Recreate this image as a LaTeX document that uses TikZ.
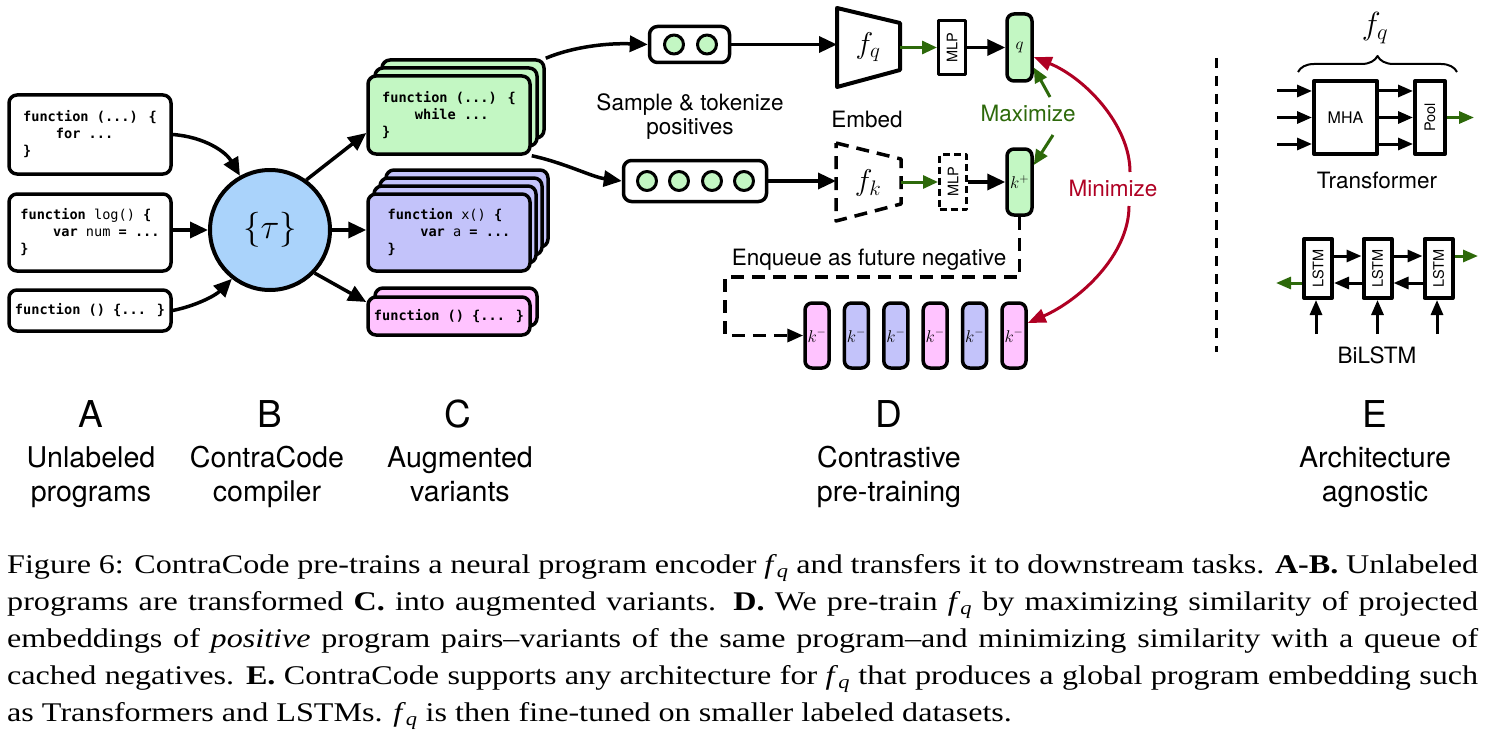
\RequirePackage{fix-cm}
\documentclass[tikz,border=0pt]{standalone}
\usepackage{graphicx}
\usepackage{fontspec}
\setmainfont{TeX Gyre Heros}
\newfontfamily\codefont{DejaVu Sans Mono}
\newfontfamily\capfont[FakeStretch=1.19]{Liberation Serif}
\usetikzlibrary{arrows.meta,decorations.pathreplacing,calc}
\definecolor{cgreen}{RGB}{195,247,195}
\definecolor{cpurple}{RGB}{195,195,250}
\definecolor{cpink}{RGB}{255,195,255}
\definecolor{cblue}{RGB}{170,211,251}
\definecolor{dkgreen}{RGB}{45,105,10}
\definecolor{dkred}{RGB}{175,0,35}
\newcommand{\capfq}{\textit{f}\textsubscript{\textit{q}}}
\begin{document}
\begin{tikzpicture}[x=1pt,y=-1pt,line join=round,
  arr/.style={line width=3.5pt,-{Triangle[length=18pt,width=16pt]}},
  garr/.style={draw=dkgreen,line width=3pt,-{Triangle[length=15pt,width=13pt]}},
  rarr/.style={draw=dkred,line width=3pt,-{Triangle[length=18pt,width=14pt]}},
  sarr/.style={line width=3pt,-{Triangle[length=15pt,width=12pt]}},
  sgarr/.style={draw=dkgreen,line width=3pt,-{Triangle[length=15pt,width=12pt]}},
  lbl/.style={font=\fontsize{22.5}{23.5}\selectfont,inner sep=0pt},
  bigl/.style={font=\fontsize{28.6}{34}\selectfont,align=center,inner sep=0pt,anchor=north},
  lettr/.style={font=\fontsize{37}{37}\selectfont,inner sep=0pt,anchor=base},
  codebox/.style={draw,line width=3.5pt,rounded corners=8pt,fill=white,minimum width=162pt,inner sep=0pt,font=\codefont\fontsize{13.6}{17}\selectfont,align=left},
  stackbox/.style={draw,line width=3.5pt,rounded corners=8pt,minimum width=162pt,inner sep=0pt},
  tokbox/.style={draw,line width=3.5pt,rounded corners=8pt,fill=white,inner sep=0pt},
  tokdot/.style={circle,draw,line width=3pt,fill=cgreen,minimum size=19pt,inner sep=0pt},
  vecbox/.style={draw,line width=3.5pt,rounded corners=7pt,minimum width=25pt,inner sep=0pt,font=\fontsize{17}{17}\selectfont},
  smalltxt/.style={font=\fontsize{14.5}{14.5}\selectfont},
  dsh/.style={dash pattern=on 13pt off 8pt},
  lstmbox/.style={draw,line width=4pt,minimum width=28pt,minimum height=59pt,inner sep=0pt,fill=white,font=\fontsize{14.5}{14.5}\selectfont}
]
\useasboundingbox (0,0) rectangle (1493,741);

% ---------- A: unlabeled programs
\node[codebox,minimum height=79pt] (a1) at (90,134.5) {\textbf{function (...) \{}\\\hphantom{xxxx}\textbf{for ...}\\\textbf{\}}};
\node[codebox,minimum height=77pt] (a2) at (90,232.5) {\textbf{function} log() \textbf{\{}\\\hphantom{xxxx}\textbf{var} num \textbf{= ...}\\\textbf{\}}};
\node[codebox,minimum height=41pt] (a3) at (90,310.5) {\textbf{function () \{... \}}};

% ---------- B: compiler
\node[circle,draw,line width=4pt,fill=cblue,minimum size=120pt,inner sep=0pt,font=\fontsize{35}{35}\selectfont] (tau) at (270,230) {$\{\tau\}$};

% ---------- C: augmented variants
\node[stackbox,fill=cgreen,minimum height=78pt] (g3) at (463,99) {};
\node[stackbox,fill=cgreen,minimum height=78pt] (g2) at (456,107) {};
\node[codebox,fill=cgreen,minimum height=78pt] (g1) at (449,115) {\textbf{function (...) \{}\\\hphantom{xxxx}\textbf{while ...}\\\textbf{\}}};

\node[stackbox,fill=cpurple,minimum height=77pt] (u4) at (467,208.5) {};
\node[stackbox,fill=cpurple,minimum height=77pt] (u3) at (461,216.5) {};
\node[stackbox,fill=cpurple,minimum height=77pt] (u2) at (455,224.5) {};
\node[codebox,fill=cpurple,minimum height=77pt] (u1) at (449,232.5) {\textbf{function} x() \textbf{\{}\\\hphantom{xxxx}\textbf{var} a \textbf{= ...}\\\textbf{\}}};

\node[stackbox,fill=cpink,minimum height=38pt] (p2) at (456,307) {};
\node[codebox,fill=cpink,minimum height=38pt] (p1) at (449,316) {\textbf{function () \{... \}}};

% arrows A -> B -> C
\draw[arr] (a1.east) .. controls (205,137) and (226,152) .. (tau.119);
\draw[arr] (a2.east |- tau.west) -- (tau.west);
\draw[arr] (a3.east) .. controls (195,306) and (215,296) .. (tau.232);
\draw[arr] (tau.54) -- ($(g1.west)+(0,18)$);
\draw[arr] (tau.east) -- (tau.east -| u1.west);
\draw[arr] (tau.316) -- ($(p1.west)+(0,-14)$);

% ---------- D: contrastive pre-training
\node[tokbox,minimum width=80pt,minimum height=36pt] (tk1) at (689.5,44.5) {};
\node[tokdot] (d11) at (674,44.5) {};
\node[tokdot] (d12) at (707,44.5) {};
\node[tokbox,minimum width=143pt,minimum height=41pt] (tk2) at (695,181) {};
\node[tokdot] (d21) at (647,181) {};
\node[tokdot] (d22) at (679,181) {};
\node[tokdot] (d23) at (712,181) {};
\node[tokdot] (d24) at (744,181) {};

\draw[arr] (g3.north east) .. controls (575,46) and (610,43) .. (tk1.west);
\draw[arr] (g1.south east) .. controls (565,163) and (592,177) .. (tk2.west);

\node[lbl,align=center,anchor=north,font=\fontsize{22.5}{24}\selectfont] (samp) at (690,93.5) {Sample \& tokenize\\positives};
\node[lbl,anchor=base] (emb) at (867,128) {Embed};

% encoders
\draw[line width=4pt] (837,8) -- (900,23) -- (900,70) -- (837,87) -- cycle;
\node[font=\fontsize{30}{30}\selectfont] (fq) at (868,47) {$f_q$};
\coordinate (fqW) at (837,44.5);
\coordinate (fqE) at (900,47.5);
\draw[line width=3.5pt,dsh] (836,143) -- (901,159) -- (901,204) -- (836,221) -- cycle;
\node[font=\fontsize{30}{30}\selectfont] (fk) at (868,183) {$f_k$};
\coordinate (fkW) at (836,181);
\coordinate (fkE) at (901,182);

\node[draw,line width=3pt,minimum width=27pt,minimum height=54pt,inner sep=0pt,smalltxt] (m1) at (952,47.5) {\rotatebox{90}{MLP}};
\node[draw,line width=3pt,dash pattern=on 7pt off 4pt,minimum width=27pt,minimum height=55pt,inner sep=0pt,smalltxt] (m2) at (953,182) {\rotatebox{90}{MLP}};

\node[vecbox,fill=cgreen,minimum height=67pt] (q) at (1019.5,47.5) {$q$};
\node[vecbox,fill=cgreen,minimum height=66pt] (kp) at (1019.5,182) {$k^+$};

\draw[arr] (tk1.east) -- (tk1.east -| fqW);
\draw[garr] (fqE) -- (fqE -| m1.west);
\draw[arr] (m1.east) -- (m1.east -| q.west);
\draw[arr] (tk2.east) -- (tk2.east -| fkW);
\draw[garr] (fkE) -- (fkE -| m2.west);
\draw[arr] (m2.east) -- (m2.east -| kp.west);

% negatives queue
\node[vecbox,fill=cpink,minimum width=24pt,minimum height=65pt] (k1) at (817,335.5) {$k^-$};
\node[vecbox,fill=cpurple,minimum width=24pt,minimum height=65pt] (k2) at (856.4,335.5) {$k^-$};
\node[vecbox,fill=cpurple,minimum width=24pt,minimum height=65pt] (k3) at (895.8,335.5) {$k^-$};
\node[vecbox,fill=cpink,minimum width=24pt,minimum height=65pt] (k4) at (935.2,335.5) {$k^-$};
\node[vecbox,fill=cpurple,minimum width=24pt,minimum height=65pt] (k5) at (974.6,335.5) {$k^-$};
\node[vecbox,fill=cpink,minimum width=24pt,minimum height=65pt] (k6) at (1014,335.5) {$k^-$};

\node[lbl,anchor=base] (enq) at (869,265) {Enqueue as future negative};
\coordinate (eq1) at (1019.5,277);
\coordinate (eq2) at (725,277);
\coordinate (eq3) at (725,335.5);
\draw[line width=3.5pt,dsh,-{Triangle[length=16pt,width=13pt]}] (kp.south) -- (eq1) -- (eq2) -- (eq3) -- (k1.west);

% maximize / minimize
\node[lbl,anchor=base,text=dkgreen] (maxl) at (1028,122) {Maximize};
\coordinate (mxu) at (1050,97);
\coordinate (mxd) at (1053,135);
\draw[garr] (mxu) -- ($(q.east)+(0,20)$);
\draw[garr] (mxd) -- ($(kp.east)+(0,-17)$);

\node[lbl,anchor=base,text=dkred] (minl) at (1113,196) {Minimize};
\coordinate (mnt) at (1130,172);
\coordinate (mnb) at (1129,206);
\draw[rarr] (mnt) .. controls (1130,125) and (1085,78) .. ($(q.east)+(0,9.5)$);
\draw[rarr] (mnb) .. controls (1129,255) and (1080,300) .. ($(k6.east)+(0,-12.5)$);

% ---------- E: architecture agnostic
\draw[line width=3pt,dash pattern=on 10pt off 8pt] (1216,58) -- (1216,352);

\draw[line width=2pt,decorate,decoration={brace,amplitude=16pt}] (1298,72) -- (1457,72);
\node[font=\fontsize{32}{32}\selectfont] (fqe) at (1375,28) {$f_q$};

\node[draw,line width=4pt,minimum width=63pt,minimum height=73pt,inner sep=0pt,font=\fontsize{16}{16}\selectfont] (mha) at (1345.5,117.5) {MHA};
\node[draw,line width=4pt,minimum width=30pt,minimum height=73pt,inner sep=0pt,smalltxt] (pool) at (1430,117.5) {\rotatebox{90}{Pool}};
\coordinate (in1) at (1277,91);
\coordinate (in2) at (1277,117.5);
\coordinate (in3) at (1277,144);
\draw[sarr] (in1) -- (in1 -| mha.west);
\draw[sarr] (in2) -- (in2 -| mha.west);
\draw[sarr] (in3) -- (in3 -| mha.west);
\draw[sarr] (mha.east |- in1) -- (pool.west |- in1);
\draw[sarr] (mha.east |- in2) -- (pool.west |- in2);
\draw[sarr] (mha.east |- in3) -- (pool.west |- in3);
\coordinate (pout) at (1474,117.5);
\draw[sgarr] (pool.east) -- (pout);
\node[lbl,anchor=base] (trf) at (1377,188) {Transformer};

\node[lstmbox] (l1) at (1318,268.5) {\rotatebox{90}{LSTM}};
\node[lstmbox] (l2) at (1377.5,268.5) {\rotatebox{90}{LSTM}};
\node[lstmbox] (l3) at (1438.5,268.5) {\rotatebox{90}{LSTM}};
\foreach \n in {l1,l2,l3}{
  \draw[line width=1pt] ($(\n.south west)+(3.5,-2)$) rectangle ($(\n.north east)+(-3.5,2)$);
}
\coordinate (rowf) at (0,256);
\coordinate (rowb) at (0,283);
\draw[sarr] (l1.east |- rowf) -- (l2.west |- rowf);
\draw[sarr] (l2.east |- rowf) -- (l3.west |- rowf);
\coordinate (lout) at (1478,256);
\draw[sgarr] (l3.east |- rowf) -- (lout);
\draw[sarr] (l3.west |- rowb) -- (l2.east |- rowb);
\draw[sarr] (l2.west |- rowb) -- (l1.east |- rowb);
\coordinate (lin) at (1276,283);
\draw[sgarr] (l1.west |- rowb) -- (lin);
\coordinate (up1) at (1316,334);
\coordinate (up2) at (1377.5,334);
\coordinate (up3) at (1437,334);
\draw[sarr] (up1) -- (up1 |- l1.south);
\draw[sarr] (up2) -- (up2 |- l2.south);
\draw[sarr] (up3) -- (up3 |- l3.south);
\node[lbl,anchor=base] (bil) at (1377,363) {BiLSTM};

% ---------- panel labels
\node[lettr] (la) at (91,427) {A};
\node[lettr] (lb) at (270,427) {B};
\node[lettr] (lc) at (458,427) {C};
\node[lettr] (ld) at (889,427) {D};
\node[lettr] (le) at (1375,427) {E};
\node[bigl] (ta) at (91,446) {Unlabeled\\programs};
\node[bigl] (tb) at (267,446) {ContraCode\\compiler};
\node[bigl] (tc) at (460,446) {Augmented\\variants};
\node[bigl] (td) at (889,446) {Contrastive\\pre-training};
\node[bigl] (te) at (1375,446) {Architecture\\agnostic};

% ---------- caption
\node[anchor=north west,inner sep=0pt,text width=1471pt,align=justify,font=\capfont\fontsize{27}{37}\selectfont] (cap) at (7,554.5) {\noindent Figure 6: ContraCode pre-trains a neural program encoder \capfq{} and transfers it to downstream tasks. \textbf{A-B.} Unlabeled\linebreak programs are transformed \textbf{C.} into augmented variants. \textbf{D.} We pre-train \capfq{} by maximizing similarity of projected\linebreak embeddings of \textit{positive} program pairs–variants of the same program–and minimizing similarity with a queue of\linebreak cached negatives. \textbf{E.} ContraCode supports any architecture for \capfq{} that produces a global program embedding such\linebreak as Transformers and LSTMs. \capfq{} is then fine-tuned on smaller labeled datasets.};
\end{tikzpicture}
\end{document}
